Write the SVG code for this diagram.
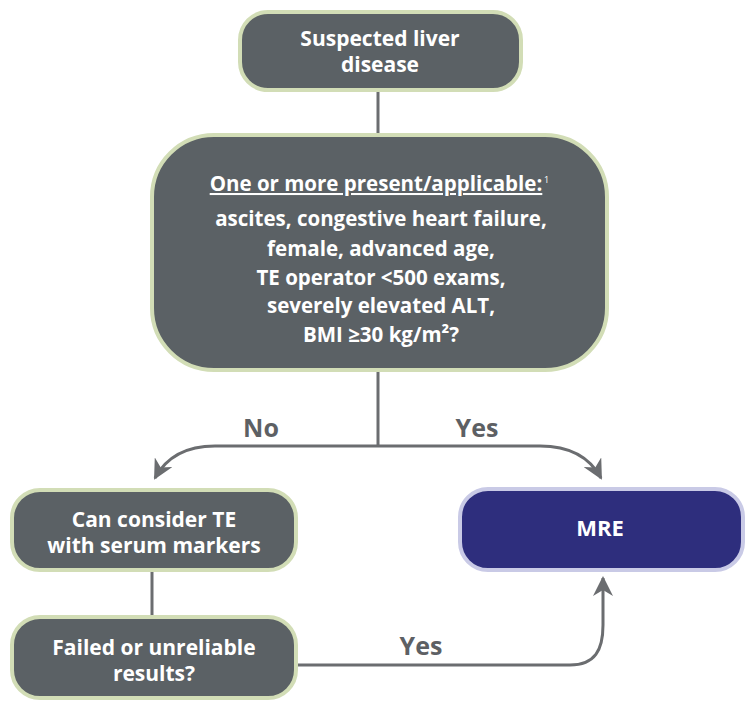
<svg xmlns="http://www.w3.org/2000/svg" width="748" height="701" viewBox="0 0 748 701">
<style>
.g{fill:#5b6165;stroke:#d2ddb6;stroke-width:4}
.b{fill:#2e2e7d;stroke:#c9cae6;stroke-width:4}
.t{font-family:"Open Sans","Liberation Sans",sans-serif;font-weight:700;fill:#fff;text-anchor:middle;font-size:21px}
.s{font-size:20.5px}
.sup{font-family:"Open Sans","Liberation Sans",sans-serif;font-weight:400;fill:#fff;font-size:9px}
.l{font-family:"Open Sans","Liberation Sans",sans-serif;font-weight:700;fill:#5d6064;text-anchor:middle;font-size:25px}
.c{fill:none;stroke:#6b6d70;stroke-width:3}
</style>
<defs>
<marker id="a" viewBox="0 0 10 10" refX="9" refY="5" markerWidth="20" markerHeight="20" orient="auto" markerUnits="userSpaceOnUse">
<path d="M0,0 L10,5 L0,10 L3,5 Z" fill="#6b6d70"/>
</marker>
</defs>
<rect width="748" height="701" fill="#fff"/>
<g id="connectors">
<path class="c" d="M378,92 V133"/>
<path class="c" d="M378,372 V446"/>
<path class="c" d="M378,446 H215 C190,446 168,454 155,478" marker-end="url(#a)"/>
<path class="c" d="M378,446 H540 C565,446 588,454 601,478" marker-end="url(#a)"/>
<path class="c" d="M152,572 V615"/>
<path class="c" d="M298,665 H570 C595,665 603,650 603,625 V578" marker-end="url(#a)"/>
<text class="l" x="261" y="437">No</text>
<text class="l" x="477" y="437">Yes</text>
<text class="l" x="421" y="655">Yes</text>
</g>
<g id="n1">
<rect class="g" x="240" y="12" width="281" height="78" rx="28"/>
<text class="t" x="380" y="46">Suspected liver</text>
<text class="t" x="380" y="72">disease</text>
</g>
<g id="n2">
<rect class="g" x="152" y="135" width="455" height="235" rx="62"/>
<text class="t s" x="376" y="191" text-decoration="underline">One or more present/applicable:</text>
<text class="sup" x="544" y="183">1</text>
<text class="t s" x="381" y="226">ascites, congestive heart failure,</text>
<text class="t s" x="381" y="256">female, advanced age,</text>
<text class="t s" x="381" y="285">TE operator &lt;500 exams,</text>
<text class="t s" x="381" y="313">severely elevated ALT,</text>
<text class="t s" x="381" y="342">BMI ≥30 kg/m²?</text>
</g>
<g id="n3">
<rect class="g" x="12" y="490" width="284" height="80" rx="28"/>
<text class="t" x="154" y="527">Can consider TE</text>
<text class="t" x="154" y="553">with serum markers</text>
</g>
<g id="n4">
<rect class="g" x="12" y="617" width="284" height="81" rx="28"/>
<text class="t" x="154" y="655">Failed or unreliable</text>
<text class="t" x="154" y="681">results?</text>
</g>
<g id="n5">
<rect class="b" x="460" y="489" width="283" height="81" rx="28"/>
<text class="t" x="600" y="536" style="font-size:22px">MRE</text>
</g>
</svg>
